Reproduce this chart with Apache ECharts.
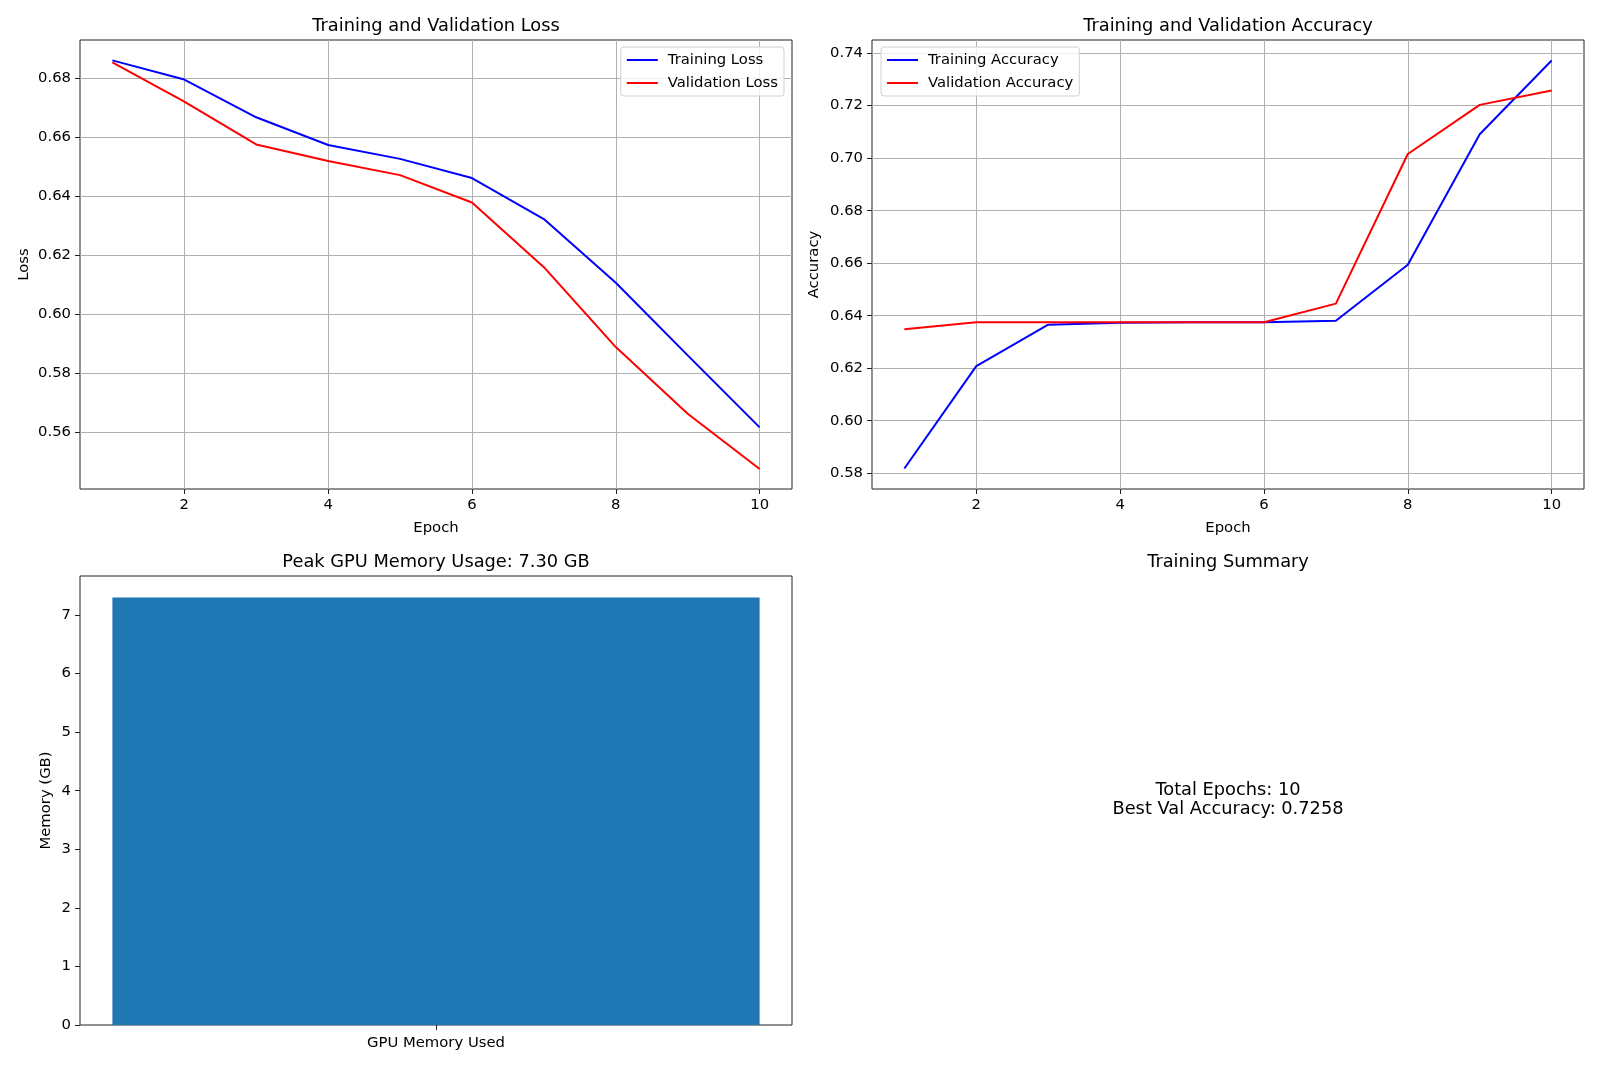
<!DOCTYPE html>
<html>
<head>
<meta charset="utf-8">
<script src="https://cdn.jsdelivr.net/npm/echarts@6/dist/echarts.min.js"></script>
<style>
  html, body { margin: 0; padding: 0; background: #fff; }
  #main { width: 1600px; height: 1066px; }
</style>
</head>
<body>
<div id="main"></div>
<script>
var epochs = [1, 2, 3, 4, 5, 6, 7, 8, 9, 10];
var trainLoss = [0.6859, 0.6794, 0.6666, 0.6572, 0.6525, 0.6460, 0.6321, 0.6105, 0.5859, 0.5615];
var valLoss = [0.6852, 0.6719, 0.6574, 0.6518, 0.6470, 0.6377, 0.6158, 0.5887, 0.5661, 0.5474];
var trainAcc = [0.5818, 0.6208, 0.6366, 0.6373, 0.6375, 0.6375, 0.6381, 0.6594, 0.7091, 0.7372];
var valAcc = [0.6348, 0.6375, 0.6375, 0.6375, 0.6375, 0.6375, 0.6446, 0.7016, 0.7203, 0.7258];
var epochTicks = [2, 4, 6, 8, 10];
var lossTicks = [0.56, 0.58, 0.60, 0.62, 0.64, 0.66, 0.68];
var accTicks = [0.58, 0.60, 0.62, 0.64, 0.66, 0.68, 0.70, 0.72, 0.74];
var memCategories = ['GPU Memory Used'];
var memValues = [7.30];
var memTicks = [0, 1, 2, 3, 4, 5, 6, 7];
var summaryLines = ['Total Epochs: 10', 'Best Val Accuracy: 0.7258'];

var FONT = 'DejaVu Sans';
var TICK = 14.8;
var TITLE = 17.8;

var myChart = echarts.init(document.getElementById('main'));

function pairs(xs, ys) {
    return xs.map(function (x, i) { return [x, ys[i]]; });
}

function gridBox(left, top) {
    return {
        left: left, top: top, width: 712, height: 449,
        show: true, borderColor: '#222', borderWidth: 1, backgroundColor: '#fff'
    };
}

function nameStyle() {
    return { fontFamily: FONT, fontSize: TICK, color: '#000' };
}

function valueX(idx, ticks) {
    return {
        type: 'value', gridIndex: idx, min: 0.55, max: 10.45,
        name: 'Epoch', nameLocation: 'middle', nameGap: 32, nameMoveOverlap: false,
        nameTextStyle: nameStyle(),
        axisLine: { show: false },
        axisTick: { show: true, length: 5, lineStyle: { color: '#222' }, customValues: ticks },
        axisLabel: { fontFamily: FONT, fontSize: TICK, color: '#000', margin: 9, customValues: ticks },
        splitLine: { show: true, lineStyle: { color: '#b0b0b0', width: 1 } }
    };
}

function valueY(idx, min, max, ticks, name, gap, digits) {
    return {
        type: 'value', gridIndex: idx, min: min, max: max,
        name: name, nameLocation: 'middle', nameGap: gap, nameMoveOverlap: false,
        nameTextStyle: nameStyle(),
        axisLine: { show: false },
        axisTick: { show: true, length: 5, lineStyle: { color: '#222' }, customValues: ticks },
        axisLabel: {
            fontFamily: FONT, fontSize: TICK, color: '#000', margin: 9, customValues: ticks,
            formatter: function (v) { return v.toFixed(digits); }
        },
        splitLine: { show: idx < 2, lineStyle: { color: '#b0b0b0', width: 1 } }
    };
}

function legendBox(names, pos) {
    var lg = {
        orient: 'vertical', top: 47, data: names,
        icon: 'rect', itemWidth: 31, itemHeight: 2, itemGap: 7,
        padding: [5, 6], borderColor: '#d0d0d0', borderWidth: 1, borderRadius: 3,
        backgroundColor: 'rgba(255,255,255,0.8)',
        textStyle: { fontFamily: FONT, fontSize: TICK, color: '#000', lineHeight: 16, padding: [0, 0, 0, 5] }
    };
    for (var k in pos) lg[k] = pos[k];
    return lg;
}

function lineSeries(name, xi, ys, color) {
    return {
        name: name, type: 'line', xAxisIndex: xi, yAxisIndex: xi,
        data: pairs(epochs, ys), symbol: 'none', animation: false,
        lineStyle: { color: color, width: 2 }, itemStyle: { color: color }
    };
}

function label(text, x, y, size) {
    return {
        type: 'text', x: x, y: y,
        style: {
            text: text, fontFamily: FONT, fontSize: size, fill: '#000',
            textAlign: 'center', textVerticalAlign: 'middle'
        }
    };
}

var option = {
    backgroundColor: '#fff',
    animation: false,
    grid: [gridBox(80, 40), gridBox(872, 40), gridBox(80, 576)],
    xAxis: [
        valueX(0, epochTicks),
        valueX(1, epochTicks),
        {
            type: 'category', gridIndex: 2, data: memCategories,
            axisLine: { show: false },
            axisTick: { show: true, alignWithLabel: true, length: 5, lineStyle: { color: '#222' } },
            axisLabel: { fontFamily: FONT, fontSize: TICK, color: '#000', margin: 11 }
        }
    ],
    yAxis: [
        valueY(0, 0.5406, 0.6928, lossTicks, 'Loss', 48, 2),
        valueY(1, 0.5740, 0.7450, accTicks, 'Accuracy', 50, 2),
        valueY(2, 0, 7.665, memTicks, 'Memory (GB)', 26.5, 0)
    ],
    legend: [
        legendBox(['Training Loss', 'Validation Loss'], { right: 816 }),
        legendBox(['Training Accuracy', 'Validation Accuracy'], { left: 881 })
    ],
    series: [
        lineSeries('Training Loss', 0, trainLoss, '#0000ff'),
        lineSeries('Validation Loss', 0, valLoss, '#ff0000'),
        lineSeries('Training Accuracy', 1, trainAcc, '#0000ff'),
        lineSeries('Validation Accuracy', 1, valAcc, '#ff0000'),
        {
            type: 'bar', xAxisIndex: 2, yAxisIndex: 2, data: memValues,
            barWidth: '90.9%', itemStyle: { color: '#1f77b4' }, animation: false
        }
    ],
    graphic: [
        label('Training and Validation Loss', 436, 26.5, TITLE),
        label('Training and Validation Accuracy', 1228, 26.5, TITLE),
        label('Peak GPU Memory Usage: 7.30 GB', 436, 562, TITLE),
        label('Training Summary', 1228, 562, TITLE),
        label(summaryLines[0], 1228, 790, TITLE),
        label(summaryLines[1], 1228, 809, TITLE)
    ]
};

myChart.setOption(option);
</script>
</body>
</html>
